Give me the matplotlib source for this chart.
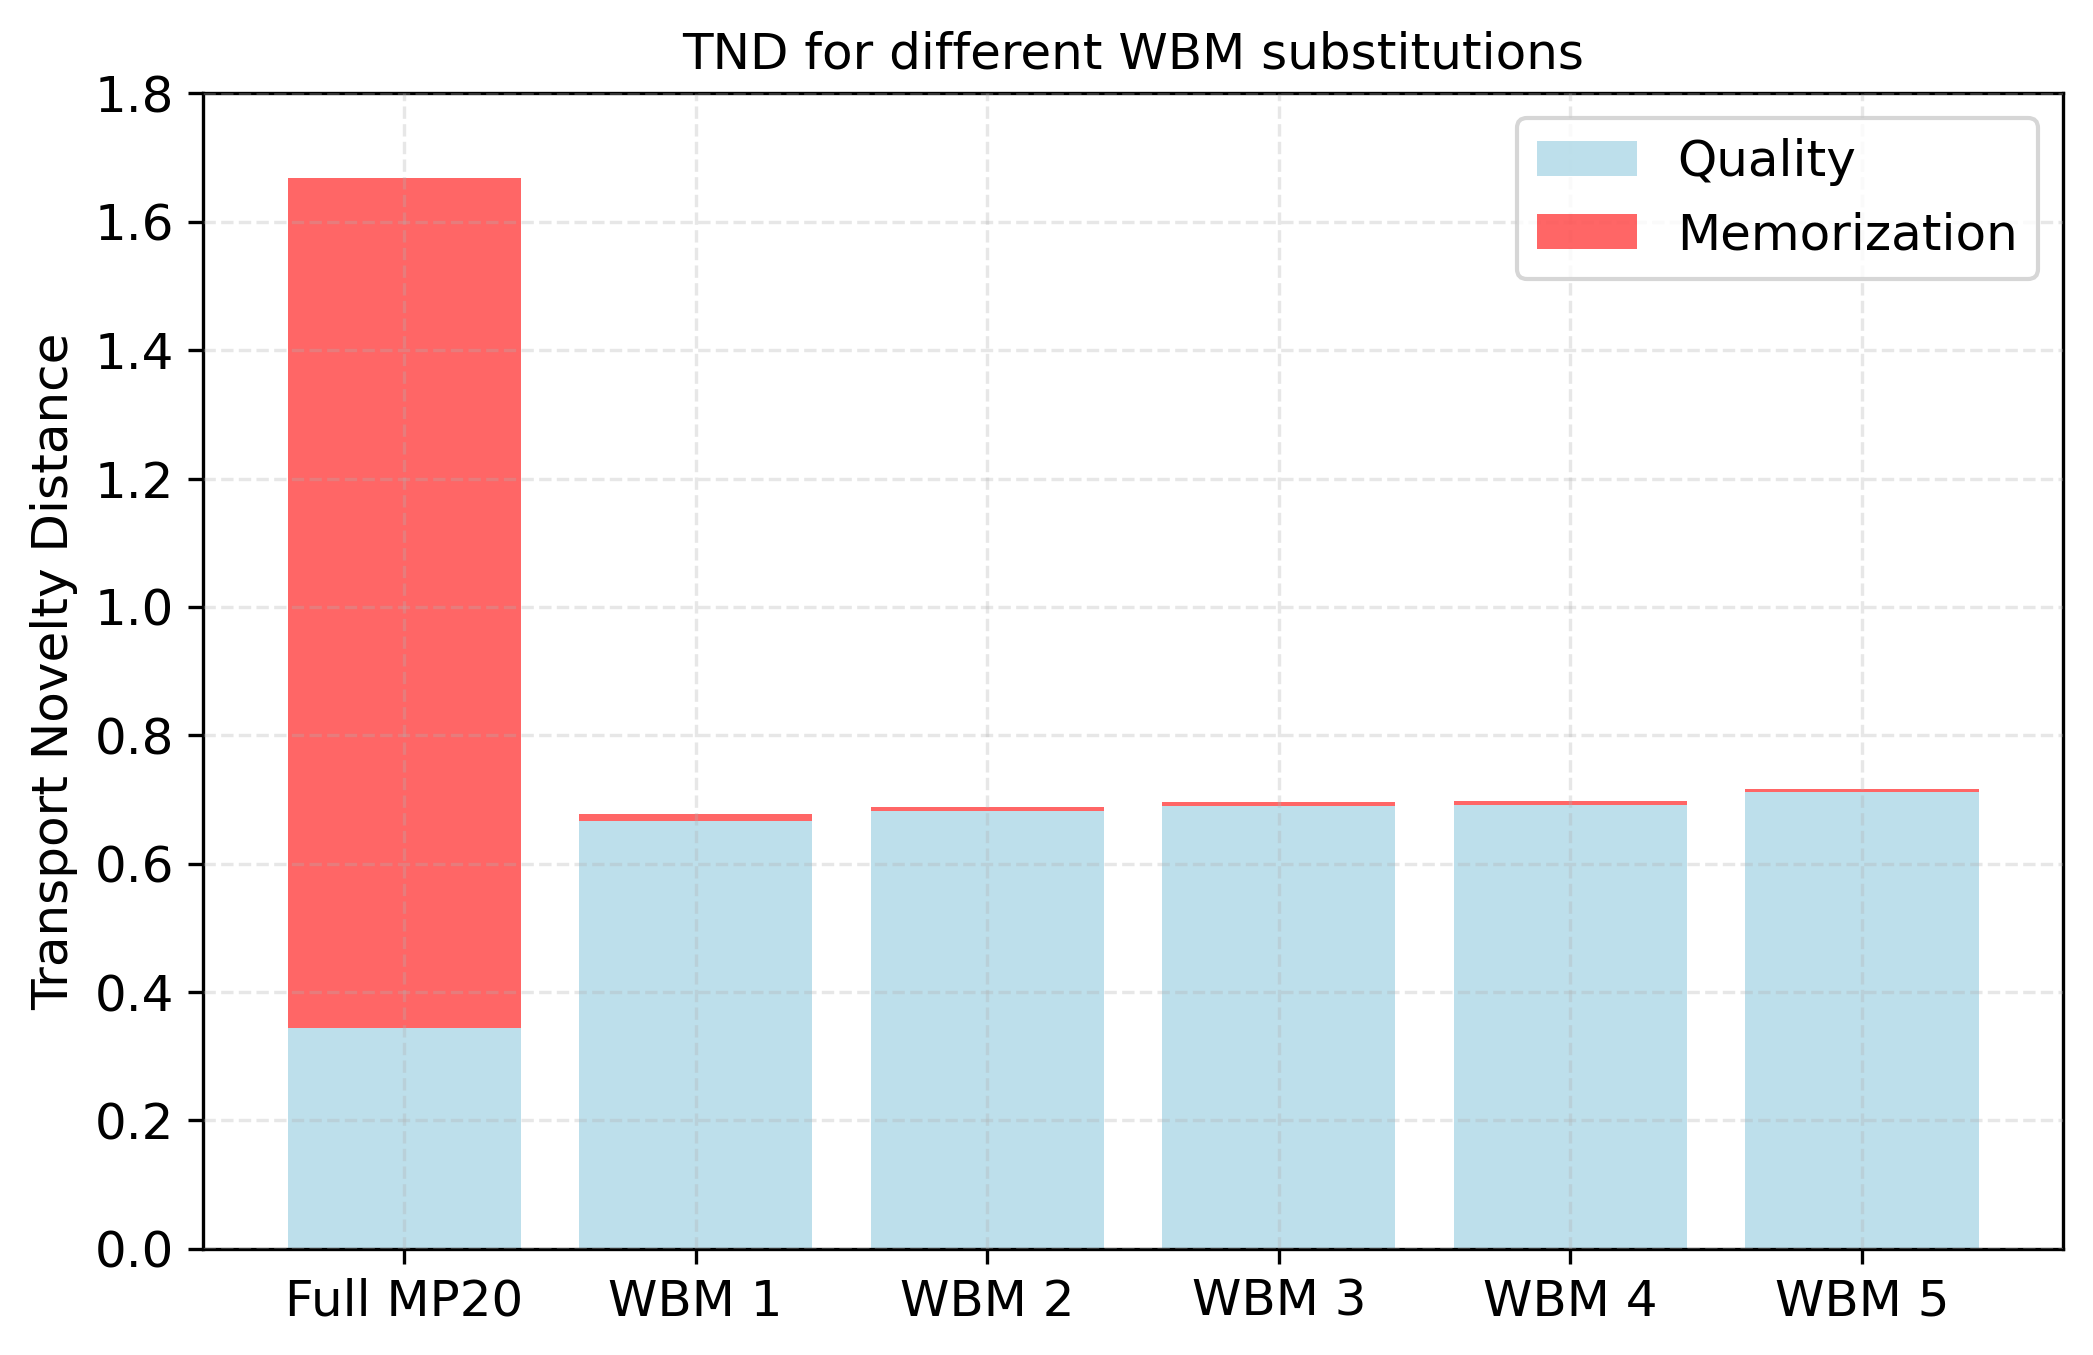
import matplotlib
matplotlib.use("Agg")
import matplotlib.pyplot as plt
import numpy as np

categories = ["Full MP20", "WBM 1", "WBM 2", "WBM 3", "WBM 4", "WBM 5"]
quality = [0.344, 0.667, 0.682, 0.690, 0.692, 0.712]
memorization = [1.324, 0.011, 0.007, 0.006, 0.006, 0.004]

fig = plt.figure(figsize=(2093/300, 1355/300), dpi=300)
ax = fig.add_axes([0.097, 0.0784, 0.8887, 0.8526])

x = np.arange(len(categories))
ax.bar(x, quality, width=0.8, color="lightblue", alpha=0.8, label="Quality")
ax.bar(x, memorization, width=0.8, bottom=quality, color="red", alpha=0.6, label="Memorization")

ax.set_xticks(x)
ax.set_xticklabels(categories, fontsize=12)
ax.set_ylim(0, 1.8)
ax.set_yticks(np.arange(0, 1.81, 0.2))
ax.tick_params(axis="y", labelsize=12)
ax.set_ylabel("Transport Novelty Distance", fontsize=12)
ax.set_title("TND for different WBM substitutions", fontsize=12)
ax.grid(True, linestyle="--", alpha=0.3)
ax.set_axisbelow(False)
ax.legend(fontsize=12, loc="upper right")

fig.savefig("out.png", dpi=300)
